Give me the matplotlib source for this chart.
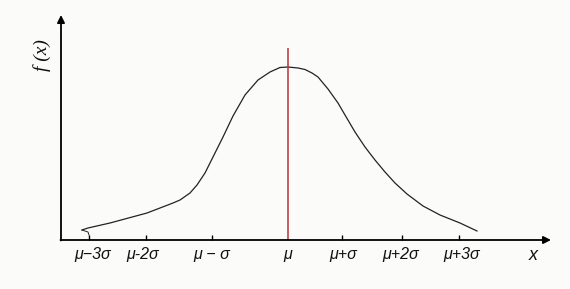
import matplotlib.pyplot as plt
import numpy as np

# curve (x position along the axis, height above the axis)
curve_x = [82, 88, 110, 147, 173, 180, 190, 197, 205, 213, 223, 233, 245, 258, 270, 280, 288,
           298, 305, 312, 318, 328, 338, 345, 355, 365, 375, 385, 395, 407, 423, 440, 460, 477]
curve_y = [10, 12, 17, 27, 37, 40, 47, 55, 67, 83, 103, 124, 145, 160, 168, 172.5, 173,
           172, 170.5, 167, 163, 151, 137, 125, 108, 93, 80, 68, 57, 46, 34, 25, 17, 9]

tick_pos = [89, 146, 212, 342, 402, 459]
label_pos = [93, 143, 212, 288, 343, 401, 462]
tick_labels = ['μ−3σ', 'μ-2σ', 'μ − σ', 'μ', 'μ+σ', 'μ+2σ', 'μ+3σ']
mean_x = 288
mean_top = 192

fig = plt.figure(figsize=(5.7, 2.89), dpi=100)
fig.patch.set_facecolor('#fbfcfa')
ax = fig.add_axes([0, 0, 1, 1])
ax.set_xlim(0, 570)
ax.set_ylim(-49, 240)
ax.axis('off')
ax.set_facecolor('#fbfcfa')

# axes with arrows
ax.annotate('', xy=(61, 225), xytext=(61, -0.5),
            arrowprops=dict(arrowstyle='-|>', color='black', lw=1.3,
                            mutation_scale=11, shrinkA=0, shrinkB=0))
ax.annotate('', xy=(551, 0), xytext=(60.5, 0),
            arrowprops=dict(arrowstyle='-|>', color='black', lw=1.3,
                            mutation_scale=11, shrinkA=0, shrinkB=0))

# ticks
ax.vlines(tick_pos, 0, 5, colors='black', lw=1)

# curve and mean line
ax.plot(curve_x, curve_y, color='#222222', lw=0.9)
ax.plot([82, 88, 89], [10, 8, 5], color='#222222', lw=0.7)
ax.vlines(mean_x, 0, mean_top, colors='#b8323a', lw=1.1)

for p, t in zip(label_pos, tick_labels):
    ax.text(p, -15, t, ha='center', va='center', fontsize=11.5, style='italic',
            family='Liberation Sans', color='#111111')
ax.text(533, -15, 'x', ha='center', va='center', fontsize=13, style='italic',
        family='Liberation Sans', color='#111111')
ax.text(42, 185, 'f (x)', ha='center', va='center', fontsize=14, style='italic',
        family='Liberation Serif', rotation=90, color='#111111')

fig.savefig('out.png', dpi=100, facecolor=fig.get_facecolor())
